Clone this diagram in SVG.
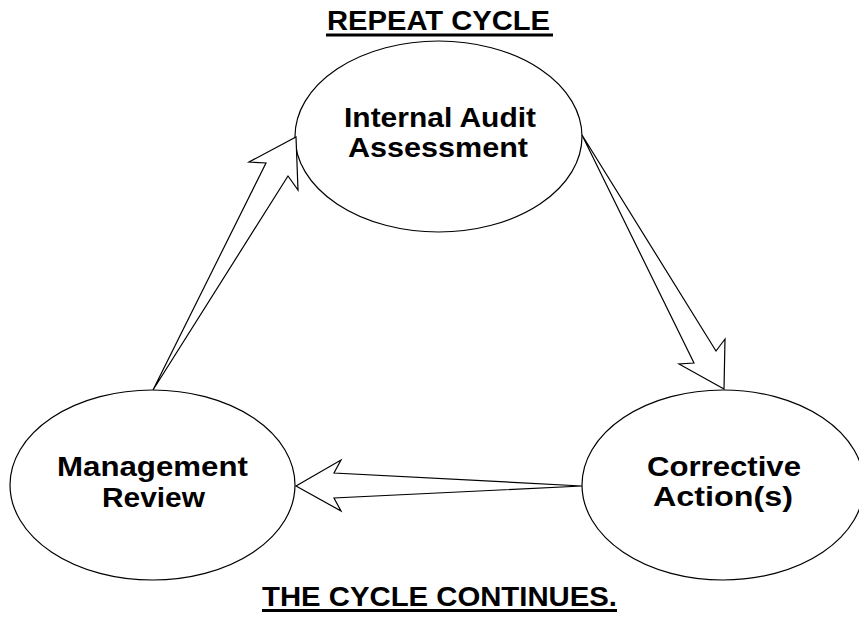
<svg xmlns="http://www.w3.org/2000/svg" width="859" height="620" viewBox="0 0 859 620">
<style>
.node{fill:#fff;stroke:#000;stroke-width:1.2}
.arrow{fill:#fff;stroke:#000;stroke-width:1.2;stroke-linejoin:miter}
.lbl{font-family:"Liberation Sans",Arial,sans-serif;font-weight:bold;font-size:27px;fill:#000;text-anchor:middle}
</style>
<rect width="859" height="620" fill="#fff"/>
<g id="title">
<text class="lbl" x="438.5" y="30" textLength="223" lengthAdjust="spacingAndGlyphs">REPEAT CYCLE</text>
<rect x="326" y="33.5" width="227" height="3" fill="#000"/>
</g>
<g id="node-audit">
<ellipse class="node" cx="438.5" cy="136.5" rx="143.5" ry="95.5"/>
<text class="lbl" x="440" y="127" textLength="192" lengthAdjust="spacingAndGlyphs">Internal Audit</text>
<text class="lbl" x="438" y="157" textLength="180" lengthAdjust="spacingAndGlyphs">Assessment</text>
</g>
<g id="node-review">
<ellipse class="node" cx="152.5" cy="485" rx="142.5" ry="95"/>
<text class="lbl" x="152.5" y="476" textLength="191" lengthAdjust="spacingAndGlyphs">Management</text>
<text class="lbl" x="153.5" y="507" textLength="103" lengthAdjust="spacingAndGlyphs">Review</text>
</g>
<g id="node-corrective">
<ellipse class="node" cx="723" cy="485" rx="141" ry="95"/>
<text class="lbl" x="724" y="476" textLength="154" lengthAdjust="spacingAndGlyphs">Corrective</text>
<text class="lbl" x="723" y="506" textLength="140" lengthAdjust="spacingAndGlyphs">Action(s)</text>
</g>
<g id="connectors">
<polygon class="arrow" points="153,390 288,176 298,190 296,137 249,162 266,163"/>
<polygon class="arrow" points="582,135 694,363 679,364 724,389 725,339 716,351"/>
<polygon class="arrow" points="582,486 334,473 341,460 296,486 341,511 334,498"/>
</g>
<g id="footer">
<text class="lbl" x="439.5" y="606" textLength="355" lengthAdjust="spacingAndGlyphs">THE CYCLE CONTINUES.</text>
<rect x="262" y="609" width="355" height="3" fill="#000"/>
</g>
</svg>
